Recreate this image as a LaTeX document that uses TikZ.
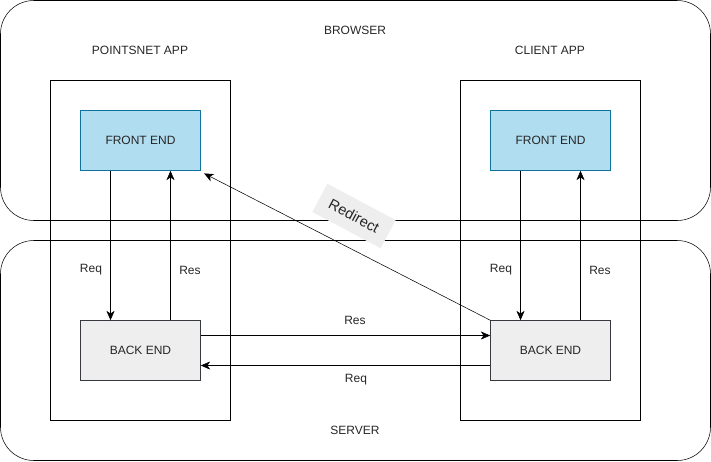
\documentclass[tikz,border=0pt]{standalone}
\usepackage{fontspec}
\setmainfont{Liberation Sans}
\usetikzlibrary{arrows.meta}
\definecolor{FrontFill}{HTML}{B1DDF0}
\definecolor{FrontLine}{HTML}{10739E}
\definecolor{BackFill}{HTML}{EEEEEE}
\definecolor{BackLine}{HTML}{36393D}
\definecolor{LabelFill}{HTML}{EEEEEE}
\begin{document}
\begin{tikzpicture}[x=0.75pt, y=-0.75pt, every node/.style={font=\fontsize{9pt}{11pt}\selectfont, text=black!85},
    zone/.style={draw, rounded corners=25pt, minimum width=532.5pt, minimum height=165pt},
    app/.style={draw, minimum width=135pt, minimum height=255pt},
    frontbox/.style={draw=FrontLine, fill=FrontFill, minimum width=90pt, minimum height=45pt},
    backbox/.style={draw=BackLine, fill=BackFill, minimum width=90pt, minimum height=45pt},
    link/.style={-{Stealth[length=7pt,width=6pt,inset=2pt]}}]
    \useasboundingbox (0,0) rectangle (711,461);

    % Browser and server zones
    \node[zone] (browser) at (355.5,110.5) {};
    \node[zone] (server) at (355.5,350.5) {};
    \node (browserlbl) at (355,30) {BROWSER};
    \node (serverlbl) at (355,430) {SERVER};

    % Apps
    \node[app] (pointsnet) at (140.5,250.5) {};
    \node[app] (client) at (550.5,250.5) {};
    \node (pointsnetlbl) at (140,50) {POINTSNET APP};
    \node (clientlbl) at (550,50) {CLIENT APP};

    % Front and back ends
    \node[frontbox] (fe1) at (140.5,140.5) {FRONT END};
    \node[frontbox] (fe2) at (550.5,140.5) {FRONT END};
    \node[backbox] (be1) at (140.5,350.5) {BACK END};
    \node[backbox] (be2) at (550.5,350.5) {BACK END};

    % Vertical arrows
    \draw[link] ([xshift=-22.5pt]fe1.south) -- ([xshift=-22.5pt]be1.north);
    \draw[link] ([xshift=22.5pt]be1.north) -- ([xshift=22.5pt]fe1.south);
    \draw[link] ([xshift=-22.5pt]fe2.south) -- ([xshift=-22.5pt]be2.north);
    \draw[link] ([xshift=22.5pt]be2.north) -- ([xshift=22.5pt]fe2.south);
    \node (req1) at (91,270) {Req};
    \node (res1) at (190,270) {Res};
    \node (req2) at (501,270) {Req};
    \node (res2) at (600,270) {Res};

    % Horizontal arrows
    \draw[link] ([yshift=11.25pt]be1.east) -- ([yshift=11.25pt]be2.west);
    \draw[link] ([yshift=-11.25pt]be2.west) -- ([yshift=-11.25pt]be1.east);
    \node (reslbl) at (355,320) {Res};
    \node (reqlbl) at (356,380) {Req};

    % Redirect
    \draw[link] (be2.north west) -- ([shift={(2.5pt,-2pt)}]fe1.south east);
    \node[fill=LabelFill, rotate=-28, minimum width=58pt, minimum height=24pt, font=\fontsize{11pt}{13pt}\selectfont] (redirect) at (354,216) {Redirect};
\end{tikzpicture}
\end{document}
